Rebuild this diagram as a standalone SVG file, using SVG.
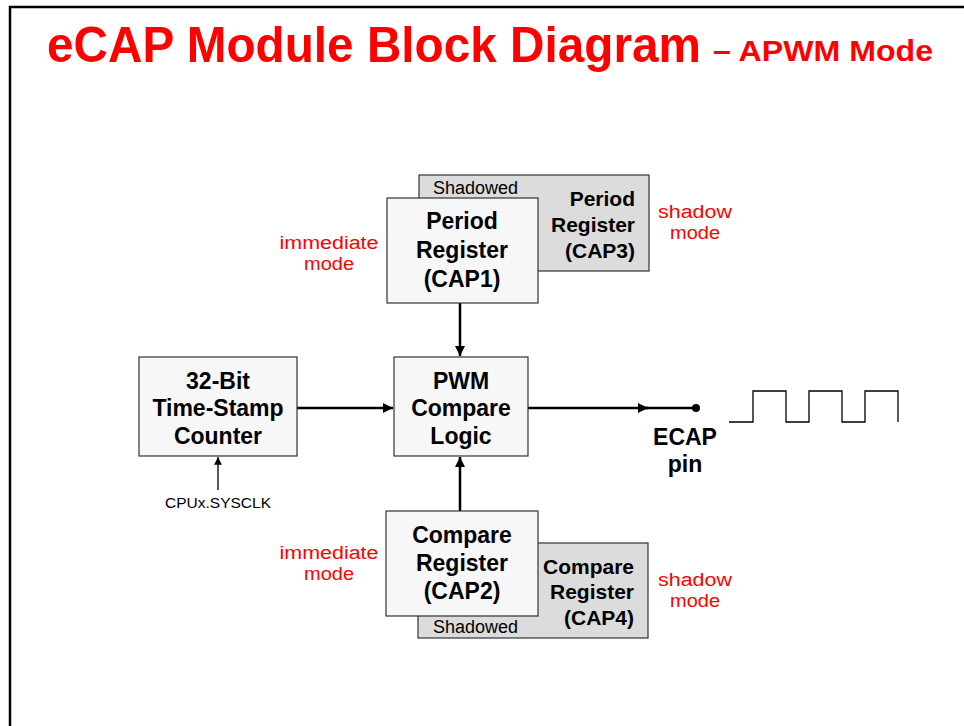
<svg xmlns="http://www.w3.org/2000/svg" width="964" height="726" viewBox="0 0 964 726">
<style>
text{font-family:"Liberation Sans",Arial,sans-serif}
.frame{fill:none;stroke:#000;stroke-width:2.5}
.front{fill:#f7f7f7;stroke:#333;stroke-width:1.2}
.back{fill:#dcdcdc;stroke:#333;stroke-width:1.2}
.b{font-weight:bold;font-size:23px;fill:#000;text-anchor:middle}
.bs{font-weight:bold;font-size:21px;fill:#000;text-anchor:end}
.sh{font-size:18px;fill:#000}
.red{font-size:18.8px;fill:#ff0000;text-anchor:middle}
.conn{fill:none;stroke:#000;stroke-width:2.5}
.thin{fill:none;stroke:#000;stroke-width:1.3}
</style>
<defs>
<marker id="ah" viewBox="0 0 10 10" refX="10" refY="5" markerWidth="4" markerHeight="4" orient="auto" markerUnits="strokeWidth"><path d="M0,0 L10,5 L0,10 z" fill="#000"/></marker>
<marker id="ahs" viewBox="0 0 10 10" refX="10" refY="5" markerWidth="6" markerHeight="6" orient="auto" markerUnits="strokeWidth"><path d="M0,0 L10,5 L0,10 z" fill="#000"/></marker>
</defs>
<rect width="964" height="726" fill="#fff"/>
<rect class="frame" x="10" y="7" width="1000" height="760"/>
<g id="title">
<text x="47" y="62" font-size="50" font-weight="bold" fill="#ff0000" textLength="654" lengthAdjust="spacingAndGlyphs">eCAP Module Block Diagram</text>
<text x="713" y="61" font-size="30" font-weight="bold" fill="#ff0000" textLength="220" lengthAdjust="spacingAndGlyphs">– APWM Mode</text>
</g>
<g id="connectors">
<line class="conn" x1="460" y1="303" x2="460" y2="356" marker-end="url(#ah)"/>
<line class="conn" x1="460" y1="511" x2="460" y2="457" marker-end="url(#ah)"/>
<line class="conn" x1="297" y1="408" x2="393" y2="408" marker-end="url(#ah)"/>
<line class="conn" x1="528" y1="408" x2="648" y2="408" marker-end="url(#ah)"/>
<line class="conn" x1="640" y1="408" x2="696" y2="408"/>
<circle cx="696" cy="408" r="4" fill="#000"/>
<line class="thin" x1="218" y1="490" x2="218" y2="457" marker-end="url(#ahs)"/>
<polyline class="thin" points="729,422 753,422 753,391 786,391 786,422 809,422 809,391 842,391 842,422 865,422 865,391 898,391 898,422"/>
</g>
<g id="cap3">
<rect class="back" x="419" y="175" width="230" height="96"/>
<text class="sh" x="433" y="194">Shadowed</text>
<text class="bs" x="635" y="206">Period</text>
<text class="bs" x="635" y="232">Register</text>
<text class="bs" x="635" y="258">(CAP3)</text>
</g>
<g id="cap1">
<rect class="front" x="387" y="198" width="151" height="105"/>
<text class="b" x="462" y="229">Period</text>
<text class="b" x="462" y="258">Register</text>
<text class="b" x="462" y="287">(CAP1)</text>
</g>
<g id="counter">
<rect class="front" x="139" y="357" width="158" height="99"/>
<text class="b" x="218" y="389">32-Bit</text>
<text class="b" x="218" y="416">Time-Stamp</text>
<text class="b" x="218" y="444">Counter</text>
</g>
<g id="pwm">
<rect class="front" x="394" y="357" width="134" height="99"/>
<text class="b" x="461" y="389">PWM</text>
<text class="b" x="461" y="416">Compare</text>
<text class="b" x="461" y="444">Logic</text>
</g>
<g id="cap4">
<rect class="back" x="418" y="543" width="230" height="95"/>
<text class="sh" x="433" y="633">Shadowed</text>
<text class="bs" x="634" y="574">Compare</text>
<text class="bs" x="634" y="599">Register</text>
<text class="bs" x="634" y="625">(CAP4)</text>
</g>
<g id="cap2">
<rect class="front" x="386" y="511" width="152" height="105"/>
<text class="b" x="462" y="543">Compare</text>
<text class="b" x="462" y="571">Register</text>
<text class="b" x="462" y="599">(CAP2)</text>
</g>
<g id="ecap-pin">
<text class="b" x="685" y="445">ECAP</text>
<text class="b" x="685" y="472">pin</text>
</g>
<g id="clk">
<text x="218" y="508" font-size="15.5" text-anchor="middle" fill="#000">CPUx.SYSCLK</text>
</g>
<g id="labels">
<text class="red" x="329" y="249" textLength="99" lengthAdjust="spacingAndGlyphs">immediate</text>
<text class="red" x="329" y="270" textLength="50" lengthAdjust="spacingAndGlyphs">mode</text>
<text class="red" x="329" y="559" textLength="99" lengthAdjust="spacingAndGlyphs">immediate</text>
<text class="red" x="329" y="580" textLength="50" lengthAdjust="spacingAndGlyphs">mode</text>
<text class="red" x="695" y="218" textLength="74" lengthAdjust="spacingAndGlyphs">shadow</text>
<text class="red" x="695" y="239" textLength="50" lengthAdjust="spacingAndGlyphs">mode</text>
<text class="red" x="695" y="586" textLength="74" lengthAdjust="spacingAndGlyphs">shadow</text>
<text class="red" x="695" y="607" textLength="50" lengthAdjust="spacingAndGlyphs">mode</text>
</g>
</svg>
